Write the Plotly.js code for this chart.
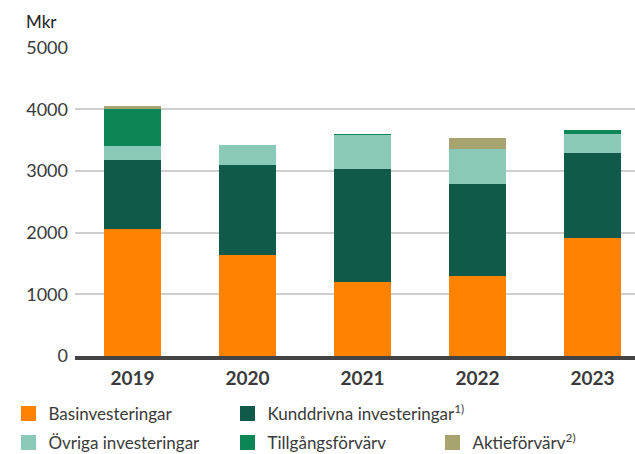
<!DOCTYPE html>
<html>
<head>
<meta charset="utf-8">
<script src="https://cdn.plot.ly/plotly-3.0.1.min.js"></script>
<style>html,body{margin:0;padding:0;background:#fff;}#chart{width:635px;height:454px;}</style>
</head>
<body>
<div id="chart"></div>
<script>
// Data (Mkr)
const years = ['2019', '2020', '2021', '2022', '2023'];
const basinvesteringar = [2065, 1630, 1195, 1290, 1920];
const kunddrivna = [1112, 1467, 1837, 1500, 1370];
const ovriga = [226, 322, 550, 565, 307];
const tillgangsforvarv = [597, 0, 15, 0, 64];
const aktieforvarv = [48, 0, 0, 177, 0];
const yTicks = [0, 1000, 2000, 3000, 4000, 5000];

const names = ['Basinvesteringar', 'Kunddrivna investeringar<sup>1)</sup>', 'Övriga investeringar', 'Tillgångsförvärv', 'Aktieförvärv<sup>2)</sup>'];
const colors = ['#FF8200', '#0F5A48', '#8AC8B8', '#0D8655', '#A8A470'];
const series = [basinvesteringar, kunddrivna, ovriga, tillgangsforvarv, aktieforvarv];
const legendIds = ['legend', 'legend2', 'legend3', 'legend4', 'legend5'];

const FONT = 'Lato, "Open Sans", sans-serif';
const TXT = '#3a3a3a';

const traces = series.map((vals, i) => ({
  type: 'bar', x: years, y: vals, name: names[i],
  marker: {color: colors[i], line: {width: 0}},
  showlegend: false, hoverinfo: 'x+y+name'
}));
// legend-only helper traces (no bars drawn) for larger swatches
series.forEach((vals, i) => {
  traces.push({
    type: 'bar', x: [years[0]], y: [null], name: names[i],
    marker: {color: colors[i], line: {width: 3, color: colors[i]}},
    showlegend: true, legend: legendIds[i], hoverinfo: 'skip'
  });
});

const L = 75, W = 560, T = 47, B = 356, H = B - T;
const px = p => (p - L) / W;
const py = p => (B - p) / H;

const legBase = {
  orientation: 'h', xanchor: 'left', yanchor: 'middle',
  font: {family: FONT, size: 17, color: TXT},
  bgcolor: 'rgba(0,0,0,0)', borderwidth: 0
};
// swatch centre positions (px) for legend entries
const legPos = [[31.5, 414], [250.5, 414], [31.5, 443], [250.5, 443], [455.5, 443]];

const layout = {
  width: 635, height: 454,
  margin: {l: L, r: 635 - L - W, t: T, b: 454 - B, pad: 0, autoexpand: false},
  paper_bgcolor: '#fff', plot_bgcolor: '#fff',
  barmode: 'stack', bargap: 0.5,
  font: {family: FONT, color: TXT},
  xaxis: {
    type: 'category', range: [-0.5, 4.37], fixedrange: true,
    showgrid: false, zeroline: false,
    showline: true, linecolor: '#444', linewidth: 4,
    ticks: '', ticklabelstandoff: 2,
    tickfont: {family: FONT, size: 19, color: TXT, weight: 'bold'}
  },
  yaxis: {
    range: [0, 5010], tickvals: yTicks,
    showgrid: true, gridcolor: '#cfcfcf', gridwidth: 2,
    zeroline: false, showline: false, ticks: '', ticklabelstandoff: 6,
    tickfont: {family: FONT, size: 18, color: TXT}, fixedrange: true
  },
  annotations: [{
    text: 'Mkr', xref: 'paper', yref: 'paper', x: px(24), y: py(22),
    xanchor: 'left', yanchor: 'middle', showarrow: false,
    font: {family: FONT, size: 17, color: '#222'}
  }],
  showlegend: true
};
legendIds.forEach((id, i) => {
  layout[id] = Object.assign({}, legBase, {x: px(legPos[i][0] - 23), y: py(legPos[i][1])});
});

Plotly.newPlot('chart', traces, layout, {displayModeBar: false, staticPlot: true});
</script>
</body>
</html>
